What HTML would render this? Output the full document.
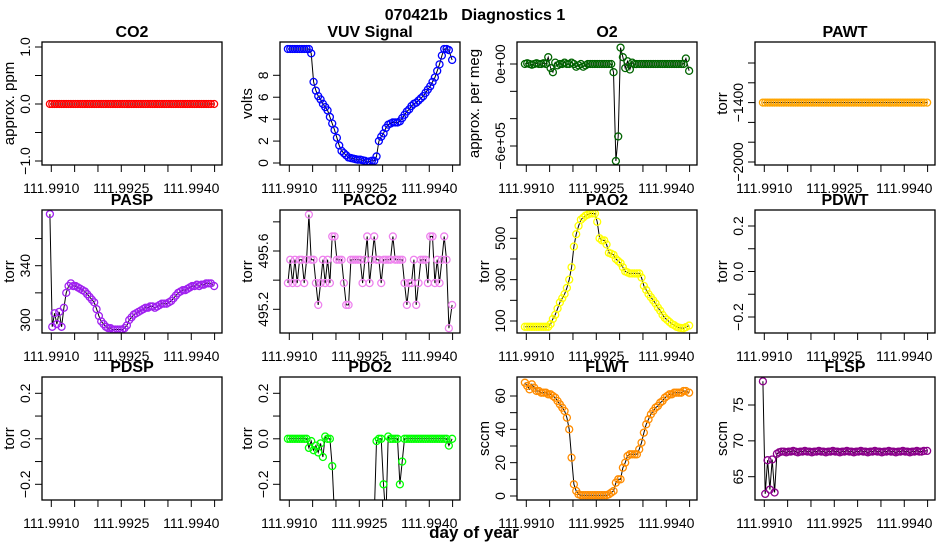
<!DOCTYPE html>
<html><head><meta charset="utf-8"><style>
html,body{margin:0;padding:0;background:#fff;width:950px;height:550px;overflow:hidden;}
svg{display:block;font-family:"Liberation Sans",sans-serif;}
</style></head><body>
<svg id="chart" width="950" height="550" viewBox="0 0 950 550">
<text x="475" y="20" text-anchor="middle" font-size="16" font-weight="bold" style="white-space:pre">070421b   Diagnostics 1</text>
<text x="474" y="538" text-anchor="middle" font-size="17" font-weight="bold">day of year</text>
</svg>
<script>
const times = [111.99097,111.99102,111.99107,111.99112,111.99117,111.99122,111.99127,111.99132,111.99137,111.99142,111.99147,111.99152,111.99157,111.99162,111.99167,111.99172,111.99177,111.99182,111.99187,111.99192,111.99197,111.99202,111.99207,111.99212,111.99217,111.99222,111.99227,111.99232,111.99237,111.99242,111.99247,111.99252,111.99257,111.99262,111.99267,111.99272,111.99277,111.99282,111.99287,111.99292,111.99297,111.99302,111.99307,111.99312,111.99317,111.99322,111.99327,111.99332,111.99337,111.99342,111.99347,111.99352,111.99357,111.99362,111.99367,111.99372,111.99377,111.99382,111.99387,111.99392,111.99397,111.99402,111.99407,111.99412,111.99417,111.99422,111.99427,111.99432,111.99437,111.99442,111.99449];
const xTicks = [111.9910,111.9915,111.9920,111.9925,111.9930,111.9935,111.9940,111.9945];
const xTickLabels = ["111.9910","","","111.9925","","","111.9940",""];
const co2 = [0,0,0,0,0,0,0,0,0,0,0,0,0,0,0,0,0,0,0,0,0,0,0,0,0,0,0,0,0,0,0,0,0,0,0,0,0,0,0,0,0,0,0,0,0,0,0,0,0,0,0,0,0,0,0,0,0,0,0,0,0,0,0,0,0,0,0,0,0,0,0];
const vuv = [10.4,10.4,10.4,10.4,10.4,10.4,10.4,10.4,10.4,10.4,10.0,7.4,6.6,6.1,5.8,5.4,5.1,4.8,4.2,3.6,3.0,2.3,1.6,1.1,0.9,0.7,0.5,0.45,0.4,0.35,0.3,0.3,0.25,0.2,0.1,0.15,0.2,0.2,0.6,2.0,2.4,2.7,3.2,3.5,3.6,3.7,3.7,3.7,3.8,4.1,4.4,4.7,4.9,5.2,5.4,5.5,5.7,5.9,6.1,6.4,6.7,7.0,7.4,7.8,8.4,9.0,9.8,10.4,10.4,10.3,9.4];
const o2 = [0,5000,0,-5000,0,5000,0,0,5000,0,50000,-30000,-60000,10000,-10000,0,0,10000,0,0,10000,0,-20000,-10000,0,-20000,-10000,0,0,0,0,0,0,0,0,0,0,0,-60000,-710000,-530000,120000,50000,-30000,20000,-40000,10000,0,0,0,0,0,0,0,0,0,0,0,0,0,0,0,0,0,0,0,0,0,0,40000,-50000];
const pawt = [-1400,-1400,-1400,-1400,-1400,-1400,-1400,-1400,-1400,-1400,-1400,-1400,-1400,-1400,-1400,-1400,-1400,-1400,-1400,-1400,-1400,-1400,-1400,-1400,-1400,-1400,-1400,-1400,-1400,-1400,-1400,-1400,-1400,-1400,-1400,-1400,-1400,-1400,-1400,-1400,-1400,-1400,-1400,-1400,-1400,-1400,-1400,-1400,-1400,-1400,-1400,-1400,-1400,-1400,-1400,-1400,-1400,-1400,-1400,-1400,-1400,-1400,-1400,-1400,-1400,-1400,-1400,-1400,-1400,-1400,-1400];
const pasp = [378,295,305,297,306,295,309,320,325,327,325,325,324,323,322,321,319,317,315,313,308,303,299,297,295,294,294,293,293,293,293,293,294,296,300,302,304,305,306,307,308,309,309,310,310,309,310,311,312,312,312,313,314,316,318,320,321,322,322,323,324,325,325,326,325,326,326,327,327,327,325];
const pacoLevels = [495.07,495.23,495.38,495.54,495.70,495.85];
const paco2Idx = [2,3,2,3,2,3,3,2,3,5,3,3,2,1,2,3,2,3,2,4,4,3,3,3,2,1,1,3,3,3,3,3,2,3,4,2,3,4,3,3,2,3,3,3,3,4,3,3,3,3,2,1,2,2,3,1,2,3,3,3,2,4,4,2,3,2,3,4,3,0,1];
const pao2 = [72,72,72,72,72,72,72,72,72,72,72,85,110,130,160,190,210,230,260,300,360,460,520,560,590,600,610,615,620,620,620,580,500,490,490,470,430,425,420,400,390,380,360,340,335,330,330,330,330,330,310,270,250,230,215,200,185,165,150,130,115,105,95,85,80,72,68,66,65,70,78];
const pdo2 = [0,0,0,0,0,0,0,0,0,-0.04,-0.01,-0.05,-0.03,-0.06,-0.02,-0.08,0.01,0,0,-0.12,-0.35,-0.35,-0.35,-0.35,-0.35,-0.35,-0.35,-0.35,-0.35,-0.35,-0.35,-0.35,-0.35,-0.35,-0.35,-0.35,-0.35,-0.35,-0.01,0,0,-0.2,-0.35,0.01,0,0,0,0,-0.2,-0.1,0,0,0,0,0,0,0,0,0,0,0,0,0,0,0,0,0,0,0,-0.03,0];
const flwt = [68,66,64,67,65,63,63,62,62,62,61,61,60,59,57,55,53,51,47,40,23,7,3,1,0.5,0.5,0.5,0.5,0.5,0.5,0.5,0.5,0.5,0.5,0.5,0.5,1,2,3,8,10,10,17,20,24,25,25,25,25,28,32,38,43,46,49,51,53,54,56,57,59,60,61,61,62,62,62,62,63,63,62];
const flsp = [78.3,62.6,67.3,63.2,67.4,62.8,68.2,68.4,68.5,68.5,68.4,68.5,68.5,68.6,68.5,68.4,68.5,68.5,68.6,68.5,68.5,68.4,68.5,68.5,68.6,68.5,68.5,68.4,68.5,68.5,68.6,68.5,68.5,68.4,68.5,68.5,68.6,68.5,68.5,68.4,68.5,68.5,68.6,68.5,68.5,68.4,68.5,68.5,68.6,68.5,68.5,68.4,68.5,68.5,68.6,68.5,68.5,68.4,68.5,68.5,68.6,68.5,68.5,68.4,68.5,68.5,68.6,68.5,68.5,68.6,68.6];

const NS = "http://www.w3.org/2000/svg";
const svg = document.getElementById("chart");
const colLeft = [42,280,517,755], rowTop = [42,210,377], W = 180, H = 123;
function mk(tag, attrs, parent){ const e=document.createElementNS(NS,tag); for(const k in attrs) e.setAttribute(k,attrs[k]); (parent||svg).appendChild(e); return e; }
function xScale(col, t){ return colLeft[col] + 9.3 + (t-111.9910)*46657; }

function panel(id, col, row, title, ylab, yref, yTicks, yLabels, values, color){
  const L = colLeft[col], T = rowTop[row];
  const g = mk("g", {});
  
  
  const ys = v => yref[1] + (v - yref[0]) * (yref[3]-yref[1])/(yref[2]-yref[0]);
  const cp = mk("clipPath", {id:"clip-"+id}, g);
  mk("rect", {x:L, y:T, width:W, height:H}, cp);
  const tt = mk("text", {x:L+W/2, y:T-5, "text-anchor":"middle", "font-size":16, "font-weight":"bold"}, g);
  tt.textContent = title;
  
  
  const yl = mk("text", {transform:`translate(${L-28},${T+H/2}) rotate(-90)`, "text-anchor":"middle", "font-size":15}, g);
  
  
  if (Array.isArray(ylab)) {
    ylab.forEach((s,k)=>{ const ts = mk("tspan",{x:0, dy: k===0? -14 : 15},yl); ts.textContent=s; });
    yl.setAttribute("transform", `translate(${L-28+4},${T+H/2}) rotate(-90)`);
  } else yl.textContent = ylab;
  yTicks.forEach((v,k)=>{
    const y = ys(v);
    const tk = mk("line",{x1:L-7,x2:L,y1:y,y2:y,stroke:"#000","stroke-width":1},g);
    
    
    if (yLabels[k]) {
      const tl = mk("text",{transform:`translate(${L-12},${y}) rotate(-90)`,"text-anchor":"middle","font-size":14},g);
      tl.textContent = yLabels[k];
      
      
    }
  });
  xTicks.forEach((v,k)=>{
    const x = xScale(col, v);
    const tk = mk("line",{x1:x,x2:x,y1:T+H,y2:T+H+7,stroke:"#000","stroke-width":1},g);
    
    
    if (xTickLabels[k]) {
      const tl = mk("text",{x:x,y:T+H+28,"text-anchor":"middle","font-size":14},g);
      tl.textContent = xTickLabels[k];
      
      
    }
  });
  if (values) {
    const dg = mk("g",{"clip-path":`url(#clip-${id})`},g);
    
    
    const pts = values.map((v,i)=>[xScale(col,times[i]), ys(v)]);
    const ln = mk("polyline",{points:pts.map(p=>p[0].toFixed(1)+","+p[1].toFixed(1)).join(" "),fill:"none",stroke:"#000","stroke-width":1},dg);
    
    
    pts.forEach(p=>{
      const c = mk("circle",{cx:p[0],cy:p[1],r:3.5,fill:"none",stroke:color,"stroke-width":1.3},dg);
      
      
    });
  }
  const box = mk("rect",{x:L,y:T,width:W,height:H,fill:"none",stroke:"#000","stroke-width":1.3},g);
  
  
}

panel("co2",0,0,"CO2","approx. ppm",[1,47,-1,161],[-1,-0.5,0,0.5,1],["−1.0","","0.0","","1.0"],co2,"#ff0000");
panel("vuv",1,0,"VUV Signal","volts",[0,163,8,75.3],[0,2,4,6,8],["0","2","4","6","8"],vuv,"#0000ff");
panel("o2",2,0,"O2",["approx. per meg",""],[0,64,-600000,146],[0,-200000,-400000,-600000],["0e+00","","","−6e+05"],o2,"#006400");
panel("pawt",3,0,"PAWT","torr",[-1000,63,-2000,162],[-2000,-1800,-1600,-1400,-1200,-1000],["−2000","","","−1400","",""],pawt,"#ffa500");
panel("pasp",0,1,"PASP","torr",[300,320,340,265.7],[300,320,340,360],["300","","340",""],pasp,"#a020f0");
panel("paco2",1,1,"PACO2","torr",[495.6,251,495.2,309.3],[495.2,495.4,495.6,495.8],["495.2","","495.6",""],paco2Idx.map(k=>pacoLevels[k]),"#ee82ee");
panel("pao2",2,1,"PAO2","torr",[500,238.3,100,321],[100,200,300,400,500,600],["100","","300","","500",""],pao2,"#ffff00");
panel("pdwt",3,1,"PDWT","torr",[0.2,226,-0.2,317],[-0.2,-0.1,0,0.1,0.2],["−0.2","","0.0","","0.2"],null,null);
panel("pdsp",0,2,"PDSP","torr",[0.2,393.3,-0.2,484.3],[-0.2,-0.1,0,0.1,0.2],["−0.2","","0.0","","0.2"],null,null);
panel("pdo2",1,2,"PDO2","torr",[0.2,393.3,-0.2,484.3],[-0.2,-0.1,0,0.1,0.2],["−0.2","","0.0","","0.2"],pdo2,"#00ff00");
panel("flwt",2,2,"FLWT","sccm",[0,496,60,396],[0,10,20,30,40,50,60],["0","","20","","40","","60"],flwt,"#ff8c00");
panel("flsp",3,2,"FLSP","sccm",[75,405,65,476.7],[65,70,75],["65","70","75"],flsp,"#8b008b");
</script>
</body></html>
